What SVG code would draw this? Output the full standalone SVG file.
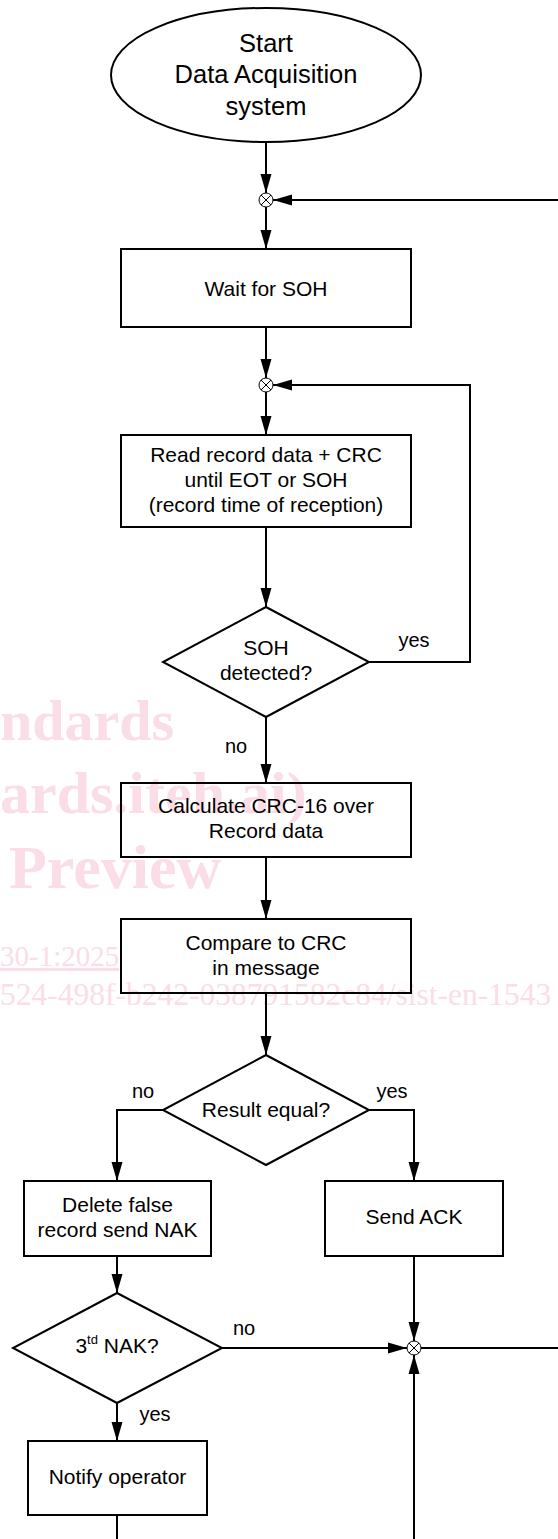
<svg xmlns="http://www.w3.org/2000/svg" width="558" height="1539" viewBox="0 0 558 1539">
<style>
.shape{fill:none;stroke:#000;stroke-width:2}
.t{font-family:"Liberation Sans",Arial,sans-serif;font-size:21px;fill:#000;text-anchor:middle}
.title{font-size:25.5px}
.lbl{font-family:"Liberation Sans",Arial,sans-serif;font-size:20px;fill:#000;text-anchor:middle}
.wire{fill:none;stroke:#000;stroke-width:2}
.join{fill:#fff;stroke:#000;stroke-width:1}
.wm{font-family:"Liberation Serif","Times New Roman",serif;fill:#fadde6}
</style>
<defs>
<marker id="ah" markerUnits="userSpaceOnUse" markerWidth="19" markerHeight="12" refX="19" refY="6" orient="auto">
<path d="M0,0.5 L19,6 L0,11.5 z" fill="#000"/>
</marker>
</defs>
<g id="watermark">
<text class="wm" x="0" y="740" font-size="58" font-weight="bold">ndards</text>
<text class="wm" x="0" y="813" font-size="60" font-weight="bold">ards.iteh.ai)</text>
<text class="wm" x="9" y="888" font-size="62" font-weight="bold">Preview</text>
<text class="wm" x="0" y="966" font-size="29" text-decoration="underline">30-1:2025</text>
<text class="wm" x="0" y="1005" font-size="31.5">524-498f-b242-038791582c84/sist-en-1543</text>
</g>
<g id="connectors">
<line class="wire" x1="266" y1="142" x2="266" y2="193" marker-end="url(#ah)"/>
<line class="wire" x1="558" y1="200" x2="273" y2="200" marker-end="url(#ah)"/>
<line class="wire" x1="266" y1="207" x2="266" y2="249" marker-end="url(#ah)"/>
<line class="wire" x1="266" y1="327" x2="266" y2="378" marker-end="url(#ah)"/>
<line class="wire" x1="266" y1="392" x2="266" y2="435" marker-end="url(#ah)"/>
<line class="wire" x1="266" y1="527" x2="266" y2="607" marker-end="url(#ah)"/>
<polyline class="wire" points="369,662 470,662 470,385 273,385" marker-end="url(#ah)"/>
<line class="wire" x1="266" y1="717" x2="266" y2="783" marker-end="url(#ah)"/>
<line class="wire" x1="266" y1="857" x2="266" y2="919" marker-end="url(#ah)"/>
<line class="wire" x1="266" y1="993" x2="266" y2="1055" marker-end="url(#ah)"/>
<polyline class="wire" points="163,1110 117,1110 117,1181" marker-end="url(#ah)"/>
<polyline class="wire" points="369,1110 414,1110 414,1181" marker-end="url(#ah)"/>
<line class="wire" x1="117" y1="1256" x2="117" y2="1293" marker-end="url(#ah)"/>
<line class="wire" x1="222" y1="1348" x2="407" y2="1348" marker-end="url(#ah)"/>
<line class="wire" x1="414" y1="1256" x2="414" y2="1341" marker-end="url(#ah)"/>
<line class="wire" x1="421" y1="1348" x2="558" y2="1348"/>
<line class="wire" x1="414" y1="1539" x2="414" y2="1355" marker-end="url(#ah)"/>
<line class="wire" x1="117" y1="1403" x2="117" y2="1441" marker-end="url(#ah)"/>
<line class="wire" x1="117" y1="1515" x2="117" y2="1539"/>
<text class="lbl" x="414" y="647">yes</text>
<text class="lbl" x="236" y="753">no</text>
<text class="lbl" x="143" y="1098">no</text>
<text class="lbl" x="392" y="1098">yes</text>
<text class="lbl" x="244" y="1335">no</text>
<text class="lbl" x="155" y="1421">yes</text>
</g>
<g id="start">
<ellipse class="shape" cx="266" cy="75" rx="155" ry="67"/>
<text class="t title" x="266" y="52">Start</text>
<text class="t title" x="266" y="83">Data Acquisition</text>
<text class="t title" x="266" y="115">system</text>
</g>
<g id="join1">
<circle class="join" cx="266" cy="200" r="7"/>
<path d="M261,195 L271,205 M271,195 L261,205" stroke="#000" stroke-width="1"/>
</g>
<g id="wait">
<rect class="shape" x="121" y="249" width="290" height="78"/>
<text class="t" x="266" y="296">Wait for SOH</text>
</g>
<g id="join2">
<circle class="join" cx="266" cy="385" r="7"/>
<path d="M261,380 L271,390 M271,380 L261,390" stroke="#000" stroke-width="1"/>
</g>
<g id="read">
<rect class="shape" x="121" y="435" width="290" height="92"/>
<text class="t" x="266" y="462">Read record data + CRC</text>
<text class="t" x="266" y="487">until EOT or SOH</text>
<text class="t" x="266" y="512">(record time of reception)</text>
</g>
<g id="sohq">
<polygon class="shape" points="266,607 369,662 266,717 163,662"/>
<text class="t" x="266" y="655">SOH</text>
<text class="t" x="266" y="680">detected?</text>
</g>
<g id="calc">
<rect class="shape" x="121" y="783" width="290" height="74"/>
<text class="t" x="266" y="813">Calculate CRC-16 over</text>
<text class="t" x="266" y="838">Record data</text>
</g>
<g id="compare">
<rect class="shape" x="121" y="919" width="290" height="74"/>
<text class="t" x="266" y="950">Compare to CRC</text>
<text class="t" x="266" y="975">in message</text>
</g>
<g id="resultq">
<polygon class="shape" points="266,1055 369,1110 266,1165 163,1110"/>
<text class="t" x="266" y="1117">Result equal?</text>
</g>
<g id="delete">
<rect class="shape" x="24" y="1181" width="187" height="75"/>
<text class="t" x="117.5" y="1212">Delete false</text>
<text class="t" x="117.5" y="1237">record send NAK</text>
</g>
<g id="ack">
<rect class="shape" x="325" y="1181" width="178" height="75"/>
<text class="t" x="414" y="1224">Send ACK</text>
</g>
<g id="nakq">
<polygon class="shape" points="117,1293 222,1348 117,1403 13,1348"/>
<text class="t" x="117" y="1353">3<tspan font-size="13" dy="-9">td</tspan><tspan dy="9"> NAK?</tspan></text>
</g>
<g id="join3">
<circle class="join" cx="414" cy="1348" r="7"/>
<path d="M409,1343 L419,1353 M419,1343 L409,1353" stroke="#000" stroke-width="1"/>
</g>
<g id="notify">
<rect class="shape" x="28" y="1441" width="179" height="74"/>
<text class="t" x="117.5" y="1484">Notify operator</text>
</g>
</svg>
